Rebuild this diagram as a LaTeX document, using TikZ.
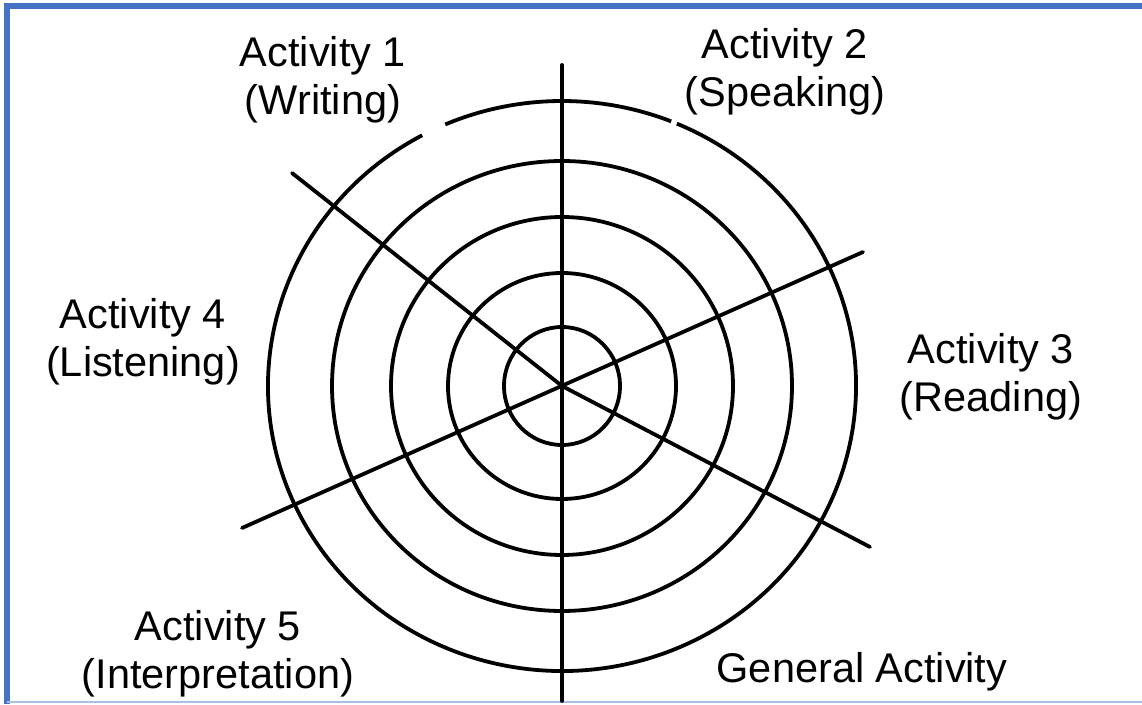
\documentclass[tikz,border=0pt]{standalone}
\usepackage{fontspec}
\setmainfont{Liberation Sans}
\definecolor{frameblue}{HTML}{4472C4}
\definecolor{paleblue}{HTML}{A9BFE6}
\begin{document}
\begin{tikzpicture}[x=1pt,y=1pt,
  ring/.style={line width=3.8pt,black},
  spoke/.style={line width=3.8pt,black,line cap=round},
  lbl/.style={font=\fontsize{41.5}{48}\selectfont,align=center,inner sep=0pt,anchor=base}]
\useasboundingbox (0,0) rectangle (1142,704);
\fill[white] (0,0) rectangle (1142,704);
% frame
\draw[frameblue,line width=6pt] (7,0) -- (7,698) -- (1142,698);
\draw[paleblue,line width=2pt] (7,2) -- (1142,2);
% centre and spoke ends
\coordinate (c) at (562,318);
\coordinate (top) at (562,639);
\coordinate (bot) at (562,3);
\coordinate (ul) at (292,531);
\coordinate (ur) at (863,452);
\coordinate (ll) at (242,176);
\coordinate (lr) at (870,157);
% rings
\draw[ring] (c) ellipse [x radius=58, y radius=59];
\draw[ring] (c) ellipse [x radius=114, y radius=113];
\draw[ring] (c) ellipse [x radius=171, y radius=169];
\draw[ring] (c) ellipse [x radius=230, y radius=225];
\draw[ring] (c) ++(118.4:294 and 285) arc[start angle=118.4, end angle=427, x radius=294, y radius=285];
\draw[ring] (c) ++(68.2:294 and 285) arc[start angle=68.2, end angle=113.4, x radius=294, y radius=285];
% spokes
\draw[spoke] (top) -- (bot);
\draw[spoke] (ul) -- (c) -- (lr);
\draw[spoke] (ll) -- (ur);
% labels (anchor = baseline of the last line)
\node[lbl] (a1) at (323,589) {Activity 1\\(Writing)};
\node[lbl] (a2) at (785,597) {Activity 2\\(Speaking)};
\node[lbl] (a3) at (991,292) {Activity 3\\(Reading)};
\node[lbl] (a4) at (143,327) {Activity 4\\(Listening)};
\node[lbl] (a5) at (218,16) {Activity 5\\(Interpretation)};
\node[lbl] (g) at (862,22) {General Activity};
\end{tikzpicture}
\end{document}
